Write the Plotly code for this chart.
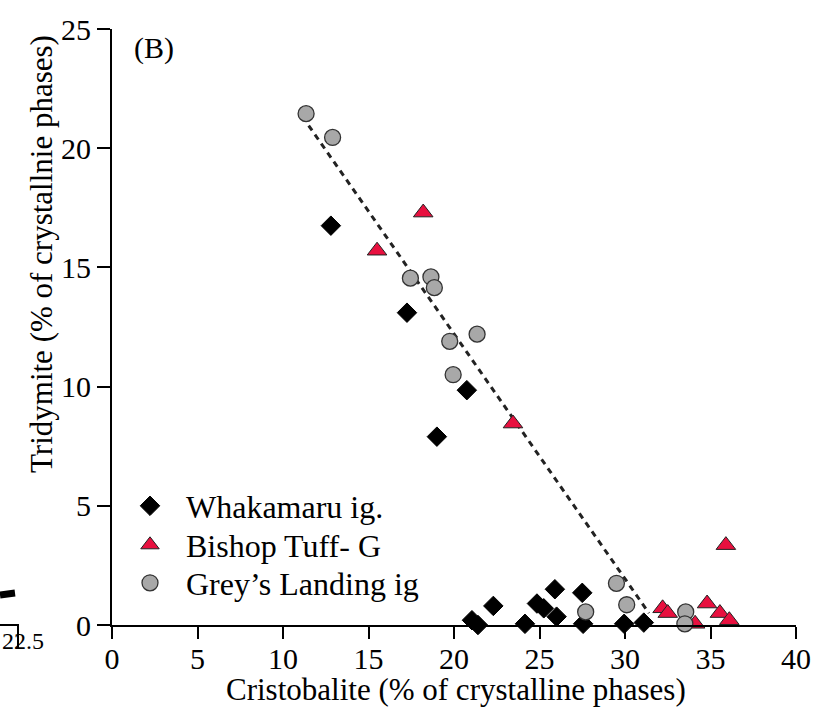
import plotly.graph_objects as go

# Data
wh_x = [12.8, 17.25, 20.75, 19.0, 21.05, 21.4, 22.3, 24.15, 24.85, 25.25, 25.9, 26.0, 27.5, 27.55, 29.95, 31.1]
wh_y = [16.75, 13.1, 9.85, 7.9, 0.2, 0.0, 0.8, 0.05, 0.9, 0.7, 1.5, 0.35, 1.35, 0.05, 0.05, 0.1]

bt_x = [15.5, 18.2, 23.45, 32.2, 32.5, 34.1, 34.8, 35.55, 36.1, 35.9]
bt_y = [15.7, 17.3, 8.45, 0.7, 0.5, 0.05, 0.9, 0.5, 0.2, 3.35]

gl_x = [11.35, 12.9, 17.45, 18.65, 18.85, 19.75, 21.35, 19.95, 29.5, 30.1, 27.7, 33.55, 33.5]
gl_y = [21.45, 20.45, 14.55, 14.6, 14.15, 11.9, 12.2, 10.5, 1.75, 0.85, 0.55, 0.55, 0.05]

fit_x = [11.5, 31.4]
fit_y = [20.95, 0.5]

x_ticks = [0, 5, 10, 15, 20, 25, 30, 35, 40]
y_ticks = [0, 5, 10, 15, 20, 25]

x_title = "Cristobalite (% of crystalline phases)"
y_title = "Tridymite (% of crystallnie phases)"

FONT = "Liberation Serif, Times New Roman, serif"
L, T, W, H = 112, 29, 684, 596


def py(p):
    return 1 - (p - T) / H


def px(p):
    return (p - L) / W


fig = go.Figure()
fig.add_trace(go.Scatter(x=fit_x, y=fit_y, mode="lines", showlegend=False,
                         line=dict(color="#222", width=3, dash="6px,5px"), cliponaxis=False))
fig.add_trace(go.Scatter(x=wh_x, y=wh_y, mode="markers", name="Whakamaru ig.", cliponaxis=False,
                         legend="legend",
                         marker=dict(symbol="diamond", size=15, color="black",
                                     line=dict(color="black", width=1))))
fig.add_trace(go.Scatter(x=bt_x, y=bt_y, mode="markers", name="Bishop Tuff- G", cliponaxis=False,
                         legend="legend2",
                         marker=dict(symbol="triangle-up", size=17, color="#e8103f",
                                     line=dict(color="#222", width=1))))
fig.add_trace(go.Scatter(x=gl_x, y=gl_y, mode="markers", name="Grey\u2019s Landing ig", cliponaxis=False,
                         legend="legend3",
                         marker=dict(symbol="circle", size=16, color="#a8a8a8",
                                     line=dict(color="#333", width=1.3))))

leg_common = dict(xanchor="left", yanchor="middle", bgcolor="rgba(0,0,0,0)",
                  font=dict(size=32, family=FONT), itemwidth=62)

fig.update_layout(
    width=816, height=720, autosize=False,
    margin=dict(l=L, r=816 - L - W, t=T, b=720 - T - H),
    paper_bgcolor="white", plot_bgcolor="white",
    font=dict(family=FONT, size=30, color="black"),
    legend=dict(x=px(114), y=py(506), **leg_common),
    legend2=dict(x=px(114), y=py(545), **leg_common),
    legend3=dict(x=px(114), y=py(583), **leg_common),
    xaxis=dict(range=[0, 40], tickvals=x_ticks, showgrid=False, zeroline=False,
               showline=True, linecolor="black", linewidth=2, automargin=False,
               ticks="outside", ticklen=12, tickwidth=2, tickcolor="black",
               ticklabelstandoff=-6,
               tickfont=dict(size=30, family=FONT)),
    yaxis=dict(range=[0, 25], tickvals=y_ticks, showgrid=False, zeroline=False,
               showline=True, linecolor="black", linewidth=2, automargin=False,
               ticks="outside", ticklen=13, tickwidth=2, tickcolor="black",
               tickfont=dict(size=30, family=FONT)),
)

# axis titles (placed as in the reference; y title sits above the axis centre)
fig.add_annotation(text=x_title, xref="paper", yref="paper", x=px(456), y=py(689),
                   xanchor="center", yanchor="middle", showarrow=False,
                   font=dict(size=31, family=FONT))
fig.add_annotation(text=y_title, xref="paper", yref="paper", x=px(42), y=py(254),
                   xanchor="center", yanchor="middle", textangle=-90, showarrow=False,
                   font=dict(size=31, family=FONT))

fig.add_annotation(text="(B)", xref="paper", yref="paper", x=px(154), y=py(48),
                   xanchor="center", yanchor="middle",
                   showarrow=False, font=dict(size=30, family=FONT))
# fragment of neighbouring panel at left edge
fig.add_annotation(text="22.5", xref="paper", yref="paper", x=px(23), y=py(641),
                   xanchor="center", yanchor="middle", showarrow=False, font=dict(size=24, family=FONT))
fig.add_shape(type="path", xref="paper", yref="paper",
              path="M %f,%f L %f,%f L %f,%f" % (px(0), py(625), px(18), py(625), px(18), py(648)),
              line=dict(color="black", width=2))
fig.add_shape(type="line", xref="paper", yref="paper", x0=px(0), x1=px(15),
              y0=py(595), y1=py(593), line=dict(color="black", width=7))

fig.write_html("out.html")
